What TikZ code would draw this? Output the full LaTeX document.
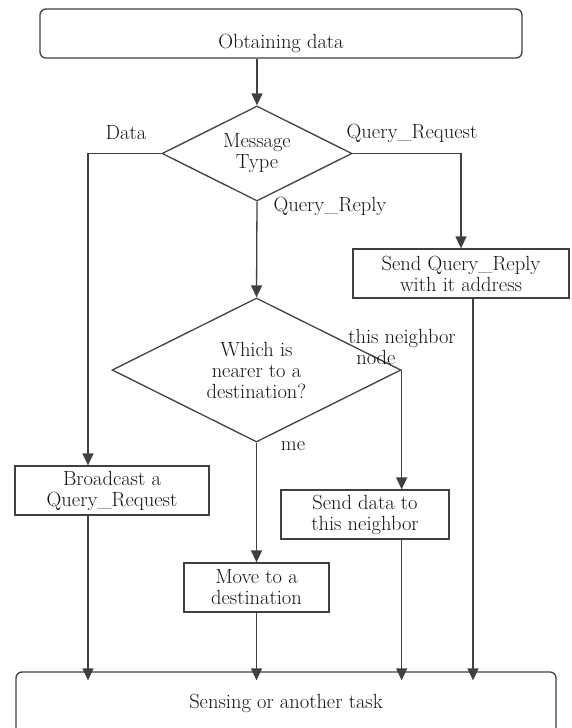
\documentclass[tikz,border=0pt]{standalone}
\usetikzlibrary{shapes.geometric,arrows.meta}
\tikzset{
  box/.style={draw, rectangle, minimum height=49pt, inner sep=0pt, align=center},
  rbox/.style={draw, rounded corners=6pt, inner sep=0pt},
  choice/.style={draw, diamond, aspect=2, inner sep=0pt, align=center},
  flow/.style={-{Triangle[length=12pt,width=11pt]}},
  tag/.style={inner sep=0pt, align=left},
}
\begin{document}
\begin{tikzpicture}[x=1pt, y=-1pt, line width=1.3pt, color=black!75, text=black!92,
  font=\fontsize{20.5}{21}\selectfont]
\useasboundingbox (0,0) rectangle (572,728);
\clip (0,0) rectangle (572,728);
\fill[white] (0,0) rectangle (572,728);

% columns of the long side lines
\coordinate (left) at (88,0);
\coordinate (right) at (473,0);

\node[rbox, minimum width=482pt, text height=39pt, text depth=10pt] (get) at (281,33.5) {Obtaining data};
\node[choice, minimum width=190pt, minimum height=95pt] (msg) at (257,153.5) {Message\\Type};
\node[box, minimum width=216pt] (reply) at (461,273.5) {Send Query\_Reply\\with it address};
\node[choice, minimum width=289pt, minimum height=144pt] (which) at (256.5,370) {Which is\\nearer to a\\destination?};
\node[box, minimum width=194pt] (bcast) at (112,490.5) {Broadcast a\\Query\_Request};
\node[box, minimum width=168pt] (send) at (365,514.5) {Send data to\\this neighbor};
\node[box, minimum width=145pt] (move) at (256.5,587.5) {Move to a\\destination};
\node[rbox, minimum width=540pt, text height=36pt, text depth=32pt] (sense) at (286,706) {Sensing or another task};

% branch labels
\node[tag] (ldata) at (126,133) {Data};
\node[tag] (lreq) at (412,133) {Query\_Request};
\node[tag, anchor=west] (lrep) at (273,206) {Query\_Reply};
\node[tag] (lnb) at (402,346.5) {this neighbor\\\hspace*{8pt}node};
\node[tag] (lme) at (293,446) {me};

\draw[flow] (get.south -| msg.north) -- (msg.north);
\draw[flow] (msg.west) -| (left |- bcast.north);
\draw[flow] (msg.east) -| (reply.north);
\draw[flow] (msg.south) -- (which.north);
\draw[flow] (which.east) -- (which.east |- send.north);
\draw[flow] (which.south) -- (move.north);
\foreach \src/\col in {bcast/left, move/move, send/which.east, reply/right}
{
    \draw[flow, shorten >=-9pt] (\col |- \src.south) -- (\col |- sense.north);
}
\end{tikzpicture}
\end{document}
